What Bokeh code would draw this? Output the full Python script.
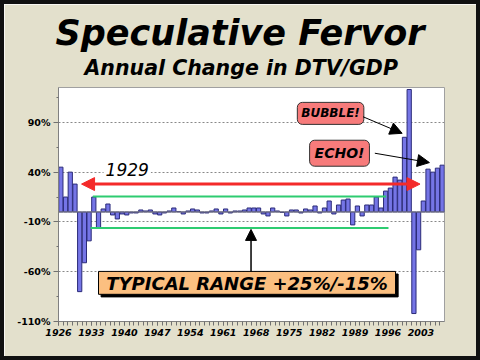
from bokeh.plotting import figure
from bokeh.models import (Range1d, FixedTicker, Span, Label, Arrow, NormalHead,
                          Title, BoxAnnotation)
from bokeh.embed import file_html
from bokeh.resources import INLINE

# ---------------- data ----------------
years = list(range(1926, 2008))
changes = [45, 15, 40, 28, -80, -51, -29, 15, -16, 3, 8, -3, -7, -2, -3, -1, -1, 2, 1, 2,
           -2, -3, -1, 1, 4, 0.5, -2, 1, 3, 2, -1, -1, 1, 3, -2, 3, -1, 1, 1, 2,
           4, 4, 4, -2, -4, 4, 1, -0.5, -4, 2, 2, -1, 3, 2, 6, -1, 4, 11, -2, 7,
           12, 13, -13, 6, -4, 7, 7, 15, 4, 21, 24, 35, 32, 75, 123, -102, -38, 11, 43, 40, 44, 47]
label_years = list(range(1926, 2004, 7))
y_major = [-110, -60, -10, 40, 90]
y_minor = [-85, -35, 15, 65, 115]

range_hi = 15.5
range_lo = -16
range_hi_span = [1933.3, 1995.6]
range_lo_span = [1932.8, 1996.1]
red_span = [1930.9, 2002.8]
red_level = 28

title_text = "Speculative Fervor"
subtitle_text = "Annual Change in DTV/GDP"
typical_text = "TYPICAL RANGE +25%/-15%"

FONT = "DejaVu Sans"
BEIGE = "#E3E0CC"
FRAME = 4

p = figure(width=480 - 2 * FRAME, height=360 - 2 * FRAME, title=None,
           x_range=Range1d(1926, 2008), y_range=Range1d(-110, 125),
           output_backend="svg", toolbar_location=None,
           min_border_left=54, min_border_right=40,
           min_border_top=83, min_border_bottom=43,
           background_fill_color="white", border_fill_color=BEIGE)
p.styles = {"border": f"{FRAME}px solid #111111", "box-sizing": "content-box"}

p.outline_line_color = "#A0A0A0"

# titles (added inner first)
p.add_layout(Title(text=subtitle_text, align="left", text_font=FONT,
                   text_font_size="20.5px", text_font_style="bold italic",
                   text_color="black", standoff=15, offset=26), "above")
p.add_layout(Title(text=title_text, align="left", text_font=FONT,
                   text_font_size="35px", text_font_style="bold italic",
                   text_color="black", standoff=-12, offset=-3), "above")

# bars
xc = [y + 0.5 for y in years]
p.vbar(x=xc, top=changes, bottom=0, width=0.9,
       fill_color="#7575E6", line_color="#2B2B78", line_width=1)

p.add_layout(Span(location=0, dimension="width", line_color="#808080", line_width=1))

# axes
p.xaxis.ticker = FixedTicker(ticks=label_years, minor_ticks=years)
p.xaxis.major_label_text_font = FONT
p.xaxis.major_label_text_font_style = "bold italic"
p.xaxis.major_label_text_font_size = "9.5px"
p.xaxis.major_label_text_color = "black"
p.xaxis.major_label_standoff = 3
p.yaxis.ticker = FixedTicker(ticks=y_major, minor_ticks=y_minor)
p.yaxis.major_label_overrides = {v: f"{v}%" for v in y_major}
p.yaxis.major_label_text_font = FONT
p.yaxis.major_label_text_font_style = "bold"
p.yaxis.major_label_text_font_size = "9.5px"
p.yaxis.major_label_text_color = "black"
p.yaxis.major_label_standoff = 3
for ax in (p.xaxis, p.yaxis):
    ax.axis_line_color = "#808080"
    ax.major_tick_line_color = "#707070"
    ax.minor_tick_line_color = "#707070"
    ax.major_tick_in = 0
    ax.minor_tick_in = 0
p.xaxis.major_tick_out = 4
p.xaxis.minor_tick_out = 4
p.yaxis.major_tick_out = 5
p.yaxis.minor_tick_out = 2

p.xgrid.visible = False
p.ygrid.grid_line_color = "#888888"
p.ygrid.grid_line_dash = "2 2"

# typical range lines
p.segment(x0=[range_hi_span[0], range_lo_span[0]], x1=[range_hi_span[1], range_lo_span[1]],
          y0=[range_hi, range_lo], y1=[range_hi, range_lo],
          line_color="#2ECC71", line_width=2)

# 1929 label
p.add_layout(Label(x=1940.6, y=42.5, text="1929", text_font=FONT,
                   text_font_size="17px", text_font_style="italic", text_color="black",
                   text_align="center", text_baseline="alphabetic",
                   background_fill_color="white", padding=2))

# red double arrow
RED = "#F42A2A"
p.add_layout(Arrow(start=NormalHead(size=13, fill_color=RED, line_color=RED),
                   end=NormalHead(size=13, fill_color=RED, line_color=RED),
                   x_start=red_span[0], y_start=red_level, x_end=red_span[1], y_end=red_level,
                   line_color=RED, line_width=3))

# typical range box with shadow
box_x = [1934.5, 1997.6]
box_y = [-82.7, -59.7]
p.add_layout(BoxAnnotation(left=box_x[0] + 0.55, right=box_x[1] + 0.55,
                           bottom=box_y[0] - 2.6, top=box_y[1] - 2.6,
                           fill_color="black", fill_alpha=1, line_color="black", line_alpha=1))
p.add_layout(BoxAnnotation(left=box_x[0], right=box_x[1], bottom=box_y[0], top=box_y[1],
                           fill_color="#FBBF80", fill_alpha=1, line_color="black",
                           line_alpha=1, line_width=1))
p.add_layout(Label(x=(box_x[0] + box_x[1]) / 2, y=(box_y[0] + box_y[1]) / 2 - 0.5,
                   text=typical_text, text_font=FONT,
                   text_font_size="18px", text_font_style="bold italic", text_color="black",
                   text_align="center", text_baseline="middle"))
p.add_layout(Arrow(end=NormalHead(size=11, fill_color="black", line_color="black"),
                   x_start=1966.9, y_start=box_y[1], x_end=1966.9, y_end=-17.5,
                   line_color="black", line_width=1.5))

# callouts
PINK = "#F77B7B"
p.add_layout(Label(x=1983.8, y=99, text="BUBBLE!", text_font=FONT,
                   text_font_size="12px", text_font_style="bold italic", text_color="black",
                   text_align="center", text_baseline="middle",
                   background_fill_color=PINK, border_line_color="#333333",
                   border_line_width=1, padding=4, border_radius=5))
p.add_layout(Label(x=1985.7, y=59, text="ECHO!", text_font=FONT,
                   text_font_size="14px", text_font_style="bold italic", text_color="black",
                   text_align="center", text_baseline="middle",
                   background_fill_color=PINK, border_line_color="#333333",
                   border_line_width=1, padding=5, border_radius=5))
p.add_layout(Arrow(end=NormalHead(size=12, fill_color="black", line_color="black"),
                   x_start=1990.7, y_start=95.6, x_end=1999.0, y_end=79,
                   line_color="black", line_width=1))
p.add_layout(Arrow(end=NormalHead(size=12, fill_color="black", line_color="black"),
                   x_start=1993.2, y_start=59, x_end=2004.8, y_end=49.6,
                   line_color="black", line_width=1))

open("out.html", "w").write(file_html(p, INLINE))
